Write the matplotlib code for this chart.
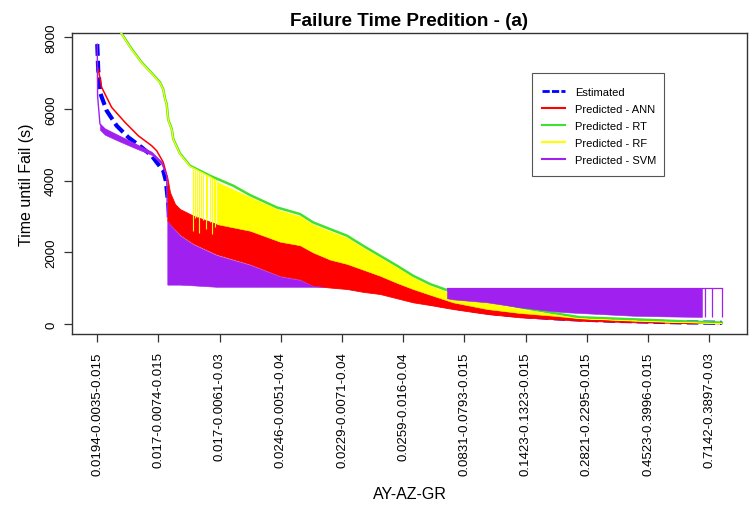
import matplotlib
matplotlib.use("Agg")
import matplotlib.pyplot as plt
from matplotlib.lines import Line2D
from matplotlib.patches import Rectangle

plt.rcParams['font.family'] = ['Liberation Sans', 'DejaVu Sans']

# ---------------- data (x = sample index, y = seconds) ----------------
tick_idx = [0, 1000, 2000, 3000, 4000, 5000, 6000, 7000, 8000, 9000, 10000]
tick_labels = ["0.0194-0.0035-0.015", "0.017-0.0074-0.015", "0.017-0.0061-0.03",
               "0.0246-0.0051-0.04", "0.0229-0.0071-0.04", "0.0259-0.016-0.04",
               "0.0831-0.0793-0.015", "0.1423-0.1323-0.015", "0.2821-0.2295-0.015",
               "0.4523-0.3996-0.015", "0.7142-0.3897-0.03"]
y_ticks = [0, 2000, 4000, 6000, 8000]

# Estimated
est_x = [0, 15, 30, 44, 154, 317, 507, 725, 889, 971, 1078, 1120, 1180, 1300, 1600,
         2000, 2500, 3000, 3500, 4000, 4500, 5000, 5500, 6000, 6500, 7000, 7500,
         8000, 8500, 9000, 9500, 10000, 10203]
est_y = [7809, 7100, 6850, 6465, 5952, 5533, 5210, 4931, 4697, 4513, 4279, 4000, 3000,
         2700, 2400, 2150, 1950, 1750, 1550, 1300, 1000, 750, 560, 420, 300, 220, 160,
         120, 90, 70, 50, 40, 35]

# Predicted - ANN : single curve, then band (max / min envelope)
ann_x = [0, 16, 72, 235, 453, 670, 889, 971, 1078, 1144]
ann_y = [7150, 7115, 6604, 6046, 5628, 5254, 4975, 4836, 4513, 4100]
band_x = [1144, 1188, 1270, 1351, 1569, 1951, 2495, 2985, 3312, 3525, 3803, 4080, 4342,
          4619, 4897, 5159, 5436, 5812, 6368, 6907, 7448, 7889, 8820, 9523, 10203]
ann_hi = [4100, 3676, 3350, 3210, 3023, 2792, 2605, 2300, 2200, 2000, 1800, 1680, 1520,
          1350, 1150, 979, 820, 608, 421, 310, 234, 162, 90, 55, 30]
ann_lo = [2884, 2800, 2650, 2500, 2250, 1950, 1676, 1350, 1250, 1071, 1020, 979, 900,
          840, 720, 608, 533, 421, 282, 190, 140, 95, 50, 35, 20]

# Predicted - RT
rt_x = [0, 399, 562, 725, 889, 1025, 1078, 1106, 1134, 1160, 1216, 1242, 1351, 1515,
        1841, 2222, 2495, 2931, 3312, 3525, 3803, 4080, 4342, 4619, 4897, 5159, 5436,
        5812, 6368, 6907, 7448, 7889, 8820, 9523, 10203]
rt_y = [9100, 8100, 7673, 7301, 7000, 6744, 6550, 6300, 6139, 5700, 5450, 5163, 4760,
        4418, 4139, 3860, 3600, 3256, 3070, 2839, 2650, 2466, 2187, 1908, 1629, 1350,
        1118, 887, 653, 468, 310, 190, 130, 80, 40]

# Predicted - RF : curve, sparse strokes, then dense band
rf_x = [0, 399, 562, 725, 889, 1025, 1078, 1106, 1134, 1160, 1216, 1242, 1351, 1515,
        1841, 1951]
rf_y = [9090, 8090, 7660, 7290, 6990, 6730, 6540, 6290, 6125, 5690, 5435, 5150, 4745,
        4400, 4110, 3990]
rf_sx = [1560, 1590, 1625, 1660, 1700, 1735, 1770, 1800, 1840, 1870, 1905, 1930]
rf_stop = [4330, 4310, 4280, 4250, 4220, 4190, 4160, 4130, 4110, 4080, 4040, 4000]
rf_sbot = [2600, 2950, 3000, 2550, 2980, 2900, 2650, 2950, 2850, 2500, 2880, 2700]
rf_bx = [1951, 2495, 2985, 3312, 3525, 3803, 4080, 4342, 4619, 4897, 5159, 5436,
         5812, 6368, 6907, 7448, 7889, 8820, 9523, 10203]
rf_hi = [3970, 3540, 3170, 3010, 2780, 2590, 2410, 2130, 1860, 1580, 1300, 1070,
         840, 610, 430, 280, 165, 105, 60, 28]
rf_lo = [2792, 2605, 2300, 2200, 2000, 1800, 1680, 1520, 1350, 1150, 979, 820,
         608, 421, 310, 234, 162, 90, 55, 30]

# Predicted - SVM
svm_x = [0, 5, 44, 126, 344, 616, 889, 1052, 1134, 1144]
svm_y = [7809, 6370, 5580, 5440, 5254, 5023, 4790, 4513, 4139, 3000]
svm_ex = [44, 126, 344, 616, 889, 1052, 1134]
svm_elo = [5420, 5280, 5110, 4910, 4720, 4460, 4139]
svm_lx = [1144, 1188, 1270, 1351, 1569, 1951, 2495, 2985, 3312, 3525, 3700]
svm_lhi = [2884, 2780, 2620, 2470, 2220, 1920, 1650, 1330, 1230, 1060, 1040]
svm_llo = [1100, 1100, 1100, 1100, 1080, 1040, 1040, 1040, 1040, 1040, 1040]
svm_rx = [5714, 5812, 6368, 6907, 7448, 7669, 8753, 9300, 9880]
svm_rhi = [1000, 1000, 1000, 1000, 1000, 1000, 1000, 1000, 1000]
svm_rlo = [720, 690, 608, 468, 360, 329, 234, 215, 200]
svm_sx = [9930, 10040, 10203]
svm_slo = [200, 195, 190]
svm_cap = 1000

# ---------------- colours ----------------
C_EST = '#0000FF'
C_ANN = '#FF0000'
C_RT = '#3FE030'
C_RF = '#FFFF00'
C_SVM = '#A020F0'

W, H = 755, 506

# ---------------- figure ----------------
fig = plt.figure(figsize=(7.55, 5.06), dpi=100)
ax = fig.add_axes([72.3 / W, 1 - 335 / H, (746.7 - 72.3) / W, (335 - 34) / H])

ax.plot(est_x, est_y, color=C_EST, lw=3, dashes=(2.8, 1.2), zorder=1)

ax.plot(ann_x, ann_y, color=C_ANN, lw=1.1, zorder=2)
ax.fill_between(band_x, ann_lo, ann_hi, color=C_ANN, lw=0.6, zorder=2)

ax.plot(rt_x, rt_y, color=C_RT, lw=1.8, zorder=3)

ax.plot(rf_x, rf_y, color=C_RF, lw=0.9, zorder=4)
ax.vlines(rf_sx, rf_sbot, rf_stop, color=C_RF, lw=0.8, zorder=4)
ax.fill_between(rf_bx, rf_lo, rf_hi, color=C_RF, lw=0.4, zorder=4)

ax.plot(svm_x, svm_y, color=C_SVM, lw=1.0, zorder=5)
ax.fill_between(svm_ex, svm_elo, svm_y[2:9], color=C_SVM, lw=0.4, zorder=5)
ax.fill_between(svm_lx, svm_llo, svm_lhi, color=C_SVM, lw=0.4, zorder=5)
ax.fill_between(svm_rx, svm_rlo, svm_rhi, color=C_SVM, lw=0.4, zorder=5)
ax.vlines(svm_sx, svm_slo, svm_cap, color=C_SVM, lw=0.9, zorder=5)
ax.plot([svm_rx[0], svm_sx[-1]], [svm_cap, svm_cap], color=C_SVM, lw=0.9, zorder=5)

ax.set_xlim(-408, 10611)
ax.set_ylim(-276, 8120)

ax.set_xticks(tick_idx)
ax.set_xticklabels(tick_labels, rotation=90, fontsize=9.5)
ax.set_yticks(y_ticks)
ax.set_yticklabels([str(v) for v in y_ticks], rotation=90, va='center', fontsize=9.5)
ax.tick_params(axis='x', length=6, width=0.9, pad=6.5, color='#333333')
ax.tick_params(axis='y', length=6, width=0.9, pad=5, color='#333333')
for s in ax.spines.values():
    s.set_linewidth(1.0)
    s.set_color('#333333')

ax.set_title("Failure Time Predition - (a)", fontsize=13.6, fontweight='bold', pad=6)
ax.set_xlabel("AY-AZ-GR", fontsize=11.5, labelpad=8)
ax.set_ylabel("Time until Fail (s)", fontsize=11.5, labelpad=8)

# legend: frame drawn separately, entries placed inside it
frame = Rectangle((532.3 / W, 1 - 177 / H), (663.7 - 532.3) / W, (177 - 74.3) / H,
                  transform=fig.transFigure, facecolor='white', edgecolor='#555555',
                  lw=0.8, zorder=10)
fig.patches.append(frame)

handles = [Line2D([], [], color=C_EST, lw=2, dashes=(2.6, 0.8)),
           Line2D([], [], color=C_ANN, lw=1.5),
           Line2D([], [], color=C_RT, lw=1.5),
           Line2D([], [], color=C_RF, lw=1.5),
           Line2D([], [], color=C_SVM, lw=1.5)]
labels = ["Estimated", "Predicted - ANN", "Predicted - RT", "Predicted - RF", "Predicted - SVM"]
leg = fig.legend(handles, labels, loc='upper left',
                 bbox_to_anchor=(542.3 / W, 1 - 88.2 / H), borderaxespad=0,
                 fontsize=8, handlelength=2.0, handletextpad=0.95, labelspacing=0.63,
                 borderpad=0, frameon=False)
leg.set_zorder(11)

fig.savefig("out.png", dpi=100)
